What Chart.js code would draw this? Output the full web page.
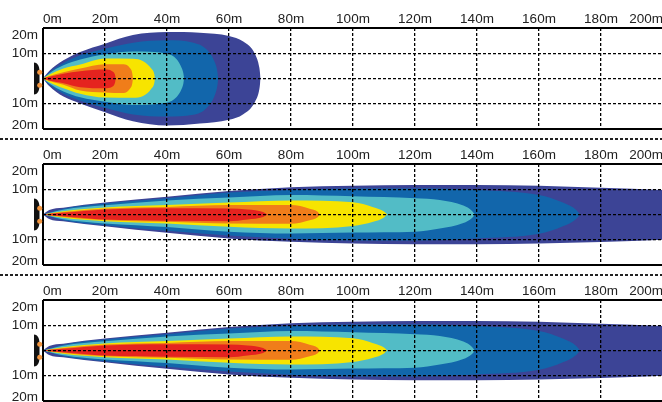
<!DOCTYPE html>
<html>
<head>
<meta charset="utf-8">
<script src="https://cdn.jsdelivr.net/npm/chart.js@4/dist/chart.umd.js"></script>
<style>
  html, body { margin: 0; padding: 0; background: #fff; overflow: hidden; }
  #page { position: relative; width: 662px; height: 402px; overflow: hidden; }
  canvas { position: absolute; left: 0; }
  .sep { position: absolute; left: 0; width: 662px; height: 2px;
    background: repeating-linear-gradient(90deg, #222 0 3px, #fff 3px 5px); }
</style>
</head>
<body>
<div id="page">
  <canvas id="beam-flood" width="664" height="142" style="top:0"></canvas>
  <div class="sep" style="top:138px"></div>
  <canvas id="beam-spot" width="664" height="142" style="top:136px"></canvas>
  <div class="sep" style="top:274px"></div>
  <canvas id="beam-spot2" width="664" height="142" style="top:272px"></canvas>
</div>
<script>
const xTicks = [0, 20, 40, 60, 80, 100, 120, 140, 160, 180, 200];
const yTicks = [-20, -10, 0, 10, 20];

const bandColors = ['#e5231f', '#f07d1a', '#f7e400', '#52bcc6', '#1266ab', '#3c4496'];

// top panel, metres
const floodRedX = [0, 2, 6.6, 12, 20, 22.2, 23.2, 23.5];
const floodRedUp = [0, 0.7, 1.9, 2.9, 3.5, 3, 1.6, 0];
const floodRedDown = [0, -0.8, -1.9, -3.5, -3.9, -3.4, -1.8, 0];
const floodOrangeX = [0, 2, 6.6, 12, 20, 26, 28.1, 28.8, 29];
const floodOrangeUp = [0, 1, 2.5, 3.9, 5.6, 5.6, 4, 2, 0];
const floodOrangeDown = [0, -1, -2.5, -4.8, -5.6, -5.8, -4, -2, 0];
const floodYellowX = [0, 2, 6.6, 12, 20, 29.1, 32.3, 35, 35.9, 36.1];
const floodYellowUp = [0, 1.5, 3.9, 5.5, 7.9, 7.8, 6.8, 3.8, 1.7, 0];
const floodYellowDown = [0, -1.5, -3.9, -6.1, -7.6, -7.7, -7, -4, -1.8, 0];
const floodTealX = [0, 2, 6.6, 12, 20, 29.1, 39.9, 43.1, 44.7, 45.3, 45.5];
const floodTealUp = [0, 2, 5.2, 7.5, 9.6, 10.7, 9.9, 7.6, 4.2, 1.9, 0];
const floodTealDown = [0, -2, -5.2, -7.5, -9.2, -10.5, -9.6, -7.4, -4.2, -1.9, 0];
const floodBlueX = [0, 2, 6.6, 12, 20, 29.1, 39.9, 48.5, 52.8, 55.5, 56.3, 56.5];
const floodBlueUp = [0, 2.4, 6.1, 9.2, 11.8, 14.2, 15.1, 14.2, 11.5, 6.2, 2.4, 0];
const floodBlueDown = [0, -2.4, -6.1, -8.8, -11.6, -14.3, -15.1, -14.4, -11.7, -6.4, -2.4, 0];
const floodNavyX = [0, 2, 6.6, 12, 20, 29, 40, 50.6, 60, 64.6, 68.4, 69.8, 70.2];
const floodNavyUp = [0, 3, 7.2, 10.5, 13.8, 17.2, 18.4, 18.1, 16.8, 14.6, 9.6, 4.2, 0];
const floodNavyDown = [0, -3, -7.2, -9.9, -13.4, -17, -18.7, -17.9, -16.4, -14.2, -9.2, -4.2, 0];

// lower two panels share the same beam
const spotRedX = [0, 6.5, 20, 40, 60, 66, 71, 72.4];
const spotRedUp = [0, 0.7, 2, 2.5, 2.4, 2, 1, 0];
const spotRedDown = [0, -0.7, -2, -2.5, -2.7, -2, -1, 0];
const spotOrangeX = [0, 6.5, 20, 40, 60, 80, 86, 88.6, 89.3];
const spotOrangeUp = [0, 1, 2.4, 3, 3.7, 3.7, 2.3, 1.1, 0];
const spotOrangeDown = [0, -1, -2.3, -2.9, -3.6, -3.7, -2.3, -1.1, 0];
const spotYellowX = [0, 6.5, 20, 40, 60, 80, 100, 106.5, 110, 111];
const spotYellowUp = [0, 1.3, 2.8, 3.7, 4.7, 5.5, 4.8, 2.9, 1.2, 0];
const spotYellowDown = [0, -1.3, -2.7, -3.6, -4.9, -5.6, -4.6, -2.9, -1.2, 0];
const spotTealX = [0, 6.5, 20, 40, 60, 80, 100, 120, 128, 135.6, 138.4, 139.3];
const spotTealUp = [0, 1.9, 3.6, 5.5, 6.7, 7.7, 7.2, 6.4, 5.7, 3.5, 1.4, 0];
const spotTealDown = [0, -1.9, -3.6, -5, -6.9, -7.6, -7.2, -6.9, -5.6, -3.4, -1.4, 0];
const spotBlueX = [0, 6.5, 20, 40, 60, 80, 100, 120, 140, 160, 167.7, 172, 173.2];
const spotBlueUp = [0, 2.3, 4.3, 6.4, 8.7, 9.7, 10.3, 10.3, 9.7, 7.7, 4.7, 1.8, 0];
const spotBlueDown = [0, -2.3, -4.3, -6.5, -8.3, -9.6, -10.3, -10.3, -9.5, -7.7, -4.7, -1.8, 0];
const spotNavyX = [0, 2, 6.5, 20, 40, 60, 80, 100, 120, 140, 160, 180, 200];
const spotNavyUp = [0, 1.8, 2.7, 4.7, 7, 9.3, 10.8, 11.4, 11.7, 11.7, 11.4, 10.6, 9.7];
const spotNavyDown = [0, -1.8, -2.7, -4.7, -7.3, -9.5, -10.8, -11.5, -11.8, -11.8, -11.5, -10.9, -10];

const floodBands = [
  [floodRedX, floodRedUp, floodRedDown],
  [floodOrangeX, floodOrangeUp, floodOrangeDown],
  [floodYellowX, floodYellowUp, floodYellowDown],
  [floodTealX, floodTealUp, floodTealDown],
  [floodBlueX, floodBlueUp, floodBlueDown],
  [floodNavyX, floodNavyUp, floodNavyDown],
];
const spotBands = [
  [spotRedX, spotRedUp, spotRedDown],
  [spotOrangeX, spotOrangeUp, spotOrangeDown],
  [spotYellowX, spotYellowUp, spotYellowDown],
  [spotTealX, spotTealUp, spotTealDown],
  [spotBlueX, spotBlueUp, spotBlueDown],
  [spotNavyX, spotNavyUp, spotNavyDown],
];

const toPoints = (xs, ys) => xs.map((x, i) => ({ x, y: ys[i] }));

function beamDatasets(bands) {
  const sets = [];
  bands.forEach(([xs, up, down], i) => {
    const common = { borderWidth: 0, pointRadius: 0, cubicInterpolationMode: 'monotone', backgroundColor: bandColors[i] };
    sets.push({ ...common, data: toPoints(xs, up), fill: '+1' });
    sets.push({ ...common, data: toPoints(xs, down), fill: false });
  });
  return sets;
}

// corner labels of the y axis sit inside the frame
const nudgeLabels = {
  id: 'nudgeLabels',
  beforeDraw(chart) {
    const items = chart.scales.y.getLabelItems();
    items[0].options.translation[1] -= 4;
    items[items.length - 1].options.translation[1] += 7;
  },
};

// lamp housing left of the 0m line
const lamp = {
  id: 'lamp',
  afterDraw(chart) {
    const { ctx } = chart;
    const cy = chart.scales.y.getPixelForValue(0);
    ctx.save();
    ctx.fillStyle = '#111';
    ctx.beginPath();
    ctx.moveTo(34, cy - 16);
    ctx.bezierCurveTo(37, cy - 16, 39.5, cy - 13, 39.5, cy - 7);
    ctx.lineTo(39.5, cy + 7);
    ctx.bezierCurveTo(39.5, cy + 13, 37, cy + 16, 34, cy + 16);
    ctx.closePath();
    ctx.fill();
    [-6.3, 6.8].forEach((dy) => {
      ctx.fillStyle = '#f2953f';
      ctx.beginPath();
      ctx.arc(39.7, cy + dy, 2.5, 0, Math.PI * 2);
      ctx.fill();
    });
    ctx.restore();
  },
};

function drawBeam(id, bands) {
  new Chart(document.getElementById(id), {
    type: 'line',
    data: { datasets: beamDatasets(bands) },
    plugins: [nudgeLabels, lamp],
    options: {
      responsive: false,
      animation: false,
      devicePixelRatio: 1,
      layout: { padding: { right: 1, bottom: 10 } },
      plugins: { legend: { display: false }, tooltip: { enabled: false } },
      scales: {
        x: {
          type: 'linear',
          position: 'top',
          min: 0,
          max: 200,
          afterBuildTicks: (s) => { s.ticks = xTicks.map((value) => ({ value })); },
          afterFit: (s) => { s.height = 28; },
          border: { display: false, dash: (c) => (c.tick && c.tick.value === 0 ? [] : [3, 2]) },
          grid: {
            z: 1,
            drawTicks: false,
            color: '#000',
            lineWidth: (c) => (c.tick && c.tick.value === 0 ? 2 : 1.3),
          },
          ticks: {
            align: 'inner',
            autoSkip: false,
            maxRotation: 0,
            padding: 1,
            color: '#222',
            font: { family: 'Liberation Sans', size: 13.5 },
            callback: (v) => v + 'm',
          },
        },
        y: {
          type: 'linear',
          min: -20,
          max: 20,
          afterBuildTicks: (s) => { s.ticks = yTicks.map((value) => ({ value })); },
          afterFit: (s) => { s.width = 43; },
          border: { display: false, dash: (c) => (c.tick && Math.abs(c.tick.value) === 20 ? [] : [3, 2]) },
          grid: {
            z: 1,
            drawTicks: false,
            color: '#000',
            lineWidth: (c) => (c.tick && Math.abs(c.tick.value) === 20 ? 2 : 1.3),
          },
          ticks: {
            autoSkip: false,
            padding: 5,
            color: '#222',
            font: { family: 'Liberation Sans', size: 13.5 },
            callback: (v) => (v === 0 ? '' : Math.abs(v) + 'm'),
          },
        },
      },
    },
  });
}

drawBeam('beam-flood', floodBands);
drawBeam('beam-spot', spotBands);
drawBeam('beam-spot2', spotBands);
</script>
</body>
</html>
